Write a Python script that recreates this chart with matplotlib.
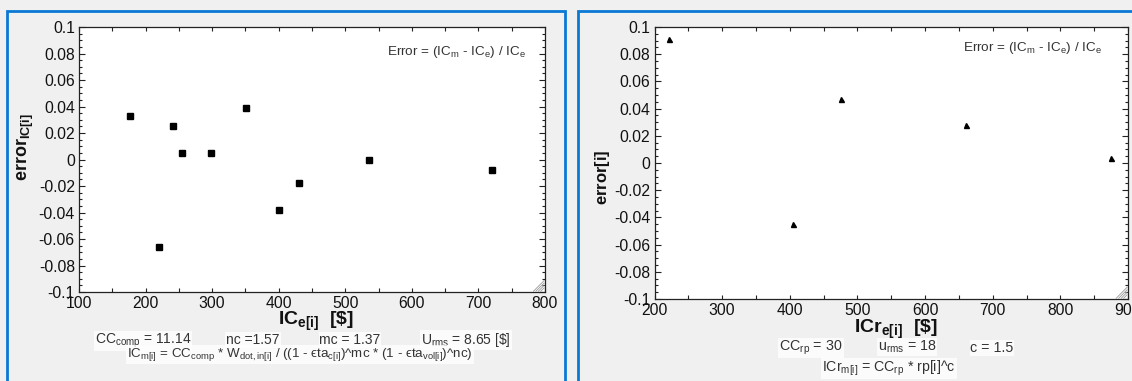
import matplotlib
matplotlib.use("Agg")
import matplotlib.pyplot as plt
from matplotlib.patches import Rectangle
from matplotlib.ticker import MultipleLocator

plt.rcParams['font.family'] = ['Liberation Sans', 'DejaVu Sans']
plt.rcParams['mathtext.fontset'] = 'custom'
plt.rcParams['mathtext.rm'] = 'Liberation Sans'
plt.rcParams['mathtext.bf'] = 'Liberation Sans:bold'
plt.rcParams['mathtext.it'] = 'Liberation Sans:italic'

# ---- data ----
ic_e = [176, 220, 241, 254, 298, 351, 400, 430, 535, 721]
err_ic = [0.033, -0.066, 0.025, 0.005, 0.005, 0.039, -0.038, -0.018, 0.0, -0.008]

icr_e = [221, 405, 475, 660, 875]
err_icr = [0.091, -0.045, 0.047, 0.028, 0.004]

W, H = 1132, 381
fig = plt.figure(figsize=(W / 100, H / 100), dpi=100)
fig.patch.set_facecolor('#f0f0f0')

def fx(x):
    return x / W

def fy(y):
    return 1 - y / H

BLUE = '#0b78d4'
TXT = '#333333'

# panel borders
fig.patches.append(Rectangle((fx(7), fy(395)), fx(565 - 7), (395 - 11) / H,
                             transform=fig.transFigure, fill=False, ec=BLUE, lw=2))
fig.patches.append(Rectangle((fx(578), fy(395)), fx(1145 - 578), (395 - 11) / H,
                             transform=fig.transFigure, fill=False, ec=BLUE, lw=2))

def style_axes(ax, xmin, xmax):
    ax.set_xlim(xmin, xmax)
    ax.set_ylim(-0.1, 0.1)
    ax.set_facecolor('white')
    ax.xaxis.set_major_locator(MultipleLocator(100))
    ax.xaxis.set_minor_locator(MultipleLocator(50))
    ax.yaxis.set_major_locator(MultipleLocator(0.02))
    ax.yaxis.set_minor_locator(MultipleLocator(0.005))
    ax.tick_params(which='both', direction='in', top=True, right=True,
                   colors='#222222', labelsize=11.3, width=0.8)
    ax.tick_params(which='major', length=4, pad=3)
    ax.tick_params(which='minor', length=2)
    ax.tick_params(axis='x', which='major', length=3, pad=3)
    ax.tick_params(axis='x', which='minor', length=3)
    ax.tick_params(labelcolor='#111111')
    ax.set_yticks([-0.1, -0.08, -0.06, -0.04, -0.02, 0, 0.02, 0.04, 0.06, 0.08, 0.1])
    ax.set_yticklabels(['-0.1', '-0.08', '-0.06', '-0.04', '-0.02', '0',
                        '0.02', '0.04', '0.06', '0.08', '0.1'])
    for s in ax.spines.values():
        s.set_color('#222222')
        s.set_linewidth(0.9)
    # resize grip
    for k in range(4):
        d = 0.012 + k * 0.007
        ax.plot([1 - d * 0.75, 1 - 0.002], [0.003, d * 1.3], transform=ax.transAxes,
                color='#999999', lw=0.6, clip_on=False)

box = dict(facecolor='white', edgecolor='none', alpha=0.75, pad=0.6)

# ---- left chart ----
ax1 = fig.add_axes([fx(79), fy(292), fx(545 - 79), (292 - 27) / H])
style_axes(ax1, 100, 800)
ax1.plot(ic_e, err_ic, linestyle='none', marker='s', markersize=4.6, color='black')

fig.text(fx(457), fy(52), r'Error = (IC$_\mathregular{m}$ - IC$_\mathregular{e}$) / IC$_\mathregular{e}$',
         ha='center', va='center', fontsize=9.7, color=TXT)
fig.text(fx(25), fy(147), r'$\mathbf{error_{IC[i]}}$', rotation=90,
         ha='center', va='center', fontsize=13, color='#111111')
fig.text(fx(316), fy(325), r'$\mathbf{IC_{e[i]}\ \ [\$]}$',
         ha='center', va='baseline', fontsize=14, color='#111111')

fig.text(fx(143), fy(344), r'CC$_\mathregular{comp}$ = 11.14', ha='center', va='baseline',
         fontsize=10, color=TXT, bbox=box)
fig.text(fx(253), fy(344), 'nc =1.57', ha='center', va='baseline', fontsize=10, color=TXT, bbox=box)
fig.text(fx(350), fy(344), 'mc = 1.37', ha='center', va='baseline', fontsize=10, color=TXT, bbox=box)
fig.text(fx(466), fy(344), r'U$_\mathregular{rms}$ = 8.65 [$\mathregular{\$}$]', ha='center', va='baseline',
         fontsize=10, color=TXT, bbox=box)
fig.text(fx(300), fy(357),
         r'IC$_\mathregular{m[i]}$ = CC$_\mathregular{comp}$ * W$_\mathregular{dot,in[i]}$ / ((1 - ϵta$_\mathregular{c[i]}$)^mc * (1 - ϵta$_\mathregular{vol[i]}$)^nc)',
         ha='center', va='baseline', fontsize=9.6, color=TXT, bbox=box)

# ---- right chart ----
ax2 = fig.add_axes([fx(654.5), fy(299), fx(1128 - 654.5), (299 - 27) / H])
style_axes(ax2, 200, 900)
ax2.plot(icr_e, err_icr, linestyle='none', marker='^', markersize=3.6, color='black')

fig.text(fx(1033), fy(48), r'Error = (IC$_\mathregular{m}$ - IC$_\mathregular{e}$) / IC$_\mathregular{e}$',
         ha='center', va='center', fontsize=9.7, color=TXT)
fig.text(fx(602), fy(177), r'$\mathbf{error[i]}$', rotation=90,
         ha='center', va='center', fontsize=12, color='#111111')
fig.text(fx(896), fy(333), r'$\mathbf{ICr_{e[i]}\ \ [\$]}$',
         ha='center', va='baseline', fontsize=14, color='#111111')
fig.text(fx(811), fy(351), r'CC$_\mathregular{rp}$ = 30', ha='center', va='baseline',
         fontsize=10.3, color=TXT, bbox=box)
fig.text(fx(907), fy(351), r'u$_\mathregular{rms}$ = 18', ha='center', va='baseline',
         fontsize=10.3, color=TXT, bbox=box)
fig.text(fx(992), fy(352), 'c = 1.5', ha='center', va='baseline', fontsize=10.3, color=TXT, bbox=box)
fig.text(fx(889), fy(372), r'ICr$_\mathregular{m[i]}$ = CC$_\mathregular{rp}$ * rp[i]^c',
         ha='center', va='baseline', fontsize=10.2, color=TXT, bbox=box)

fig.savefig('out.png', dpi=100, facecolor=fig.get_facecolor())
